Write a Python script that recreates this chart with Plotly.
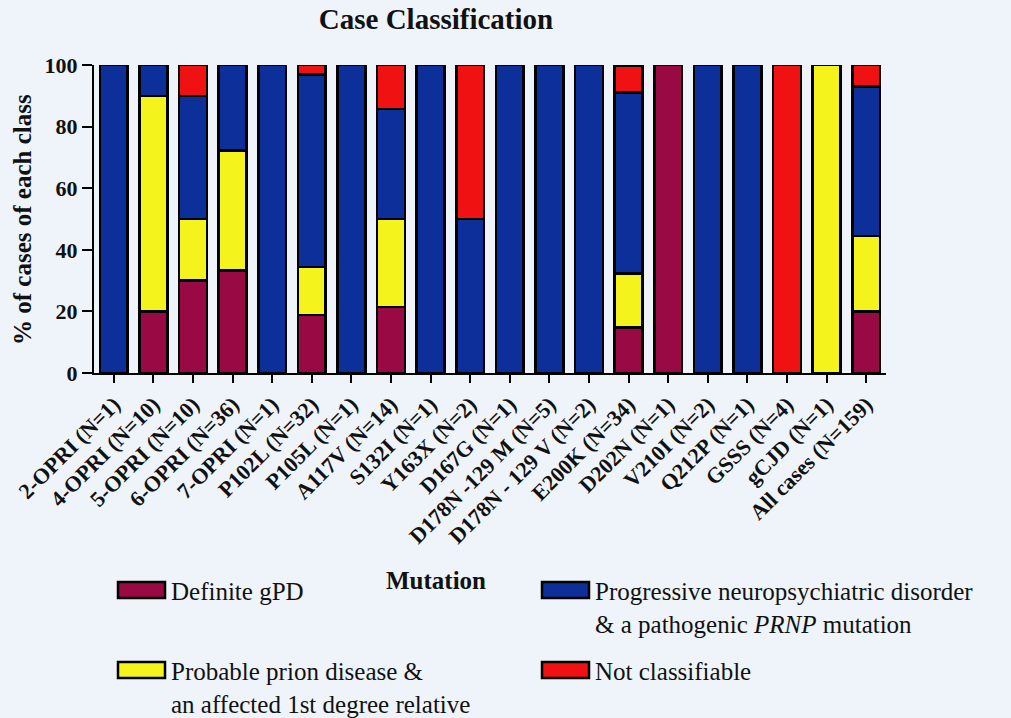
import plotly.graph_objects as go

# Mutation groups shown along the x axis
categories = [
    "2-OPRI (N=1)", "4-OPRI (N=10)", "5-OPRI (N=10)", "6-OPRI (N=36)",
    "7-OPRI (N=1)", "P102L (N=32)", "P105L (N=1)", "A117V (N=14)",
    "S132I (N=1)", "Y163X (N=2)", "D167G (N=1)", "D178N -129 M (N=5)",
    "D178N - 129 V (N=2)", "E200K (N=34)", "D202N (N=1)", "V210I (N=2)",
    "Q212P (N=1)", "GSSS (N=4)", "gCJD (N=1)", "All cases (N=159)",
]

# Percentage of cases in each class (stacked bottom to top)
definite_gpd = [0, 20, 30, 33.3, 0, 18.8, 0, 21.4, 0, 0, 0, 0, 0, 14.7, 100, 0, 0, 0, 0, 20.0]
probable_prion = [0, 70, 20, 38.9, 0, 15.6, 0, 28.6, 0, 0, 0, 0, 0, 17.6, 0, 0, 0, 0, 100, 24.5]
progressive_npd = [100, 10, 40, 27.8, 100, 62.5, 100, 35.7, 100, 50, 100, 100, 100, 58.8, 0, 100, 100, 0, 0, 48.5]
not_classifiable = [0, 0, 10, 0, 0, 3.1, 0, 14.3, 0, 50, 0, 0, 0, 8.8, 0, 0, 0, 100, 0, 7.0]

y_ticks = [0, 20, 40, 60, 80, 100]

series = [
    ("Definite gPD", definite_gpd, "#990a45"),
    ("Probable prion disease &<br>an affected 1st degree relative", probable_prion, "#f4f41c"),
    ("Progressive neuropsychiatric disorder<br>& a pathogenic <i>PRNP</i> mutation", progressive_npd, "#0d2f9a"),
    ("Not classifiable", not_classifiable, "#f01212"),
]

W, H = 1011, 718
L, R, T, B = 94, 886, 65, 373  # plot area in pixels
SERIF = "Liberation Serif"
BG = "#eef4f9"


def px_x(x):
    return (x - L) / (R - L)


def px_y(y):
    return (B - y) / (B - T)


fig = go.Figure()
for name, vals, color in series:
    fig.add_trace(go.Bar(
        x=categories, y=vals, name=name,
        marker=dict(color=color, line=dict(color="black", width=2.5)),
        showlegend=False,
    ))

# Legend drawn as a 2x2 block under the axis
legend_slots = {
    "Definite gPD": (118, 590),
    "Progressive": (542, 590),
    "Probable": (118, 670),
    "Not classifiable": (542, 670),
}
shapes = []
annotations = []
for name, _, color in series:
    key = next(k for k in legend_slots if name.startswith(k))
    sx, sy = legend_slots[key]
    shapes.append(dict(
        type="rect", xref="paper", yref="paper",
        x0=px_x(sx), x1=px_x(sx + 47), y0=px_y(sy + 8), y1=px_y(sy - 8),
        fillcolor=color, line=dict(color="black", width=2.5),
    ))
    annotations.append(dict(
        text=name, xref="paper", yref="paper",
        x=px_x(sx + 51), y=px_y(sy - 14), xanchor="left", yanchor="top",
        align="left", showarrow=False,
        font=dict(family=SERIF, size=25, color="#111"),
    ))

annotations.append(dict(
    text="<b>Mutation</b>", xref="paper", yref="paper",
    x=px_x(436), y=px_y(580), xanchor="center", yanchor="middle",
    showarrow=False, font=dict(family=SERIF, size=25, color="#111"),
))
annotations.append(dict(
    text="<b>% of cases of each class</b>", xref="paper", yref="paper",
    x=px_x(22), y=px_y(220), xanchor="center", yanchor="middle",
    textangle=-90, showarrow=False,
    font=dict(family=SERIF, size=25, color="#111"),
))

fig.update_layout(
    width=W, height=H,
    margin=dict(l=L, r=W - R, t=T, b=H - B, autoexpand=False),
    barmode="stack", bargap=0.3,
    paper_bgcolor=BG, plot_bgcolor=BG,
    title=dict(
        text="<b>Case Classification</b>", x=436 / W, xref="container",
        xanchor="center", y=1 - 19 / H, yref="container", yanchor="middle",
        font=dict(family=SERIF, size=29, color="#111"),
    ),
    shapes=shapes, annotations=annotations,
    xaxis=dict(
        type="category", tickangle=-45, showgrid=False,
        showline=True, linecolor="black", linewidth=2,
        ticks="outside", ticklen=8, tickwidth=2, tickcolor="black",
        tickfont=dict(family=SERIF, size=22, color="#111", weight="bold"),
        automargin=False,
    ),
    yaxis=dict(
        range=[0, 100], tickvals=y_ticks, showgrid=False, zeroline=False,
        showline=True, linecolor="black", linewidth=2,
        ticks="outside", ticklen=10, tickwidth=2, tickcolor="black",
        tickfont=dict(family=SERIF, size=22, color="#111", weight="bold"),
        automargin=False,
    ),
)

fig.write_html("out.html")
